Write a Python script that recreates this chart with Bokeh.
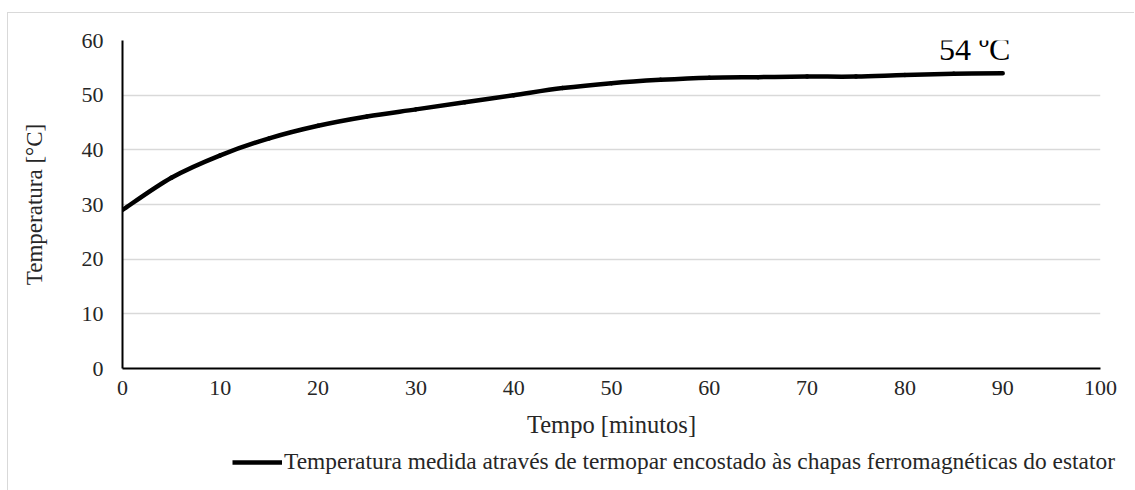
from bokeh.plotting import figure
from bokeh.models import Range1d, FixedTicker, Legend, LegendItem
from bokeh.core.properties import value
from bokeh.embed import file_html
from bokeh.resources import INLINE

# Stator temperature measured with a thermocouple, every 5 minutes
tempo_min = [0, 5, 10, 15, 20, 25, 30, 35, 40, 45, 50, 55, 60, 65, 70, 75, 80, 85, 90]
temperatura_c = [29.0, 34.9, 39.0, 42.1, 44.4, 46.1, 47.4, 48.7, 50.0, 51.3, 52.2, 52.8, 53.2,
                 53.3, 53.4, 53.4, 53.7, 53.9, 54.0]

x_ticks = [0, 10, 20, 30, 40, 50, 60, 70, 80, 90, 100]
y_ticks = [0, 10, 20, 30, 40, 50, 60]

serie_nome = "Temperatura medida através de termopar encostado às chapas ferromagnéticas do estator"
rotulo_final = "54 ºC"

FONT = "Liberation Serif"
GRID = "#d9d9d9"
TXT = "#262626"
W = 1127

p = figure(
    width=W, height=436,
    x_range=Range1d(0, 100), y_range=Range1d(0, 60),
    output_backend="svg", toolbar_location=None,
    min_border_left=114, min_border_right=35, min_border_top=27, min_border_bottom=81,
)
p.margin = (12, 0, 0, 7)
p.styles = {"border-top": f"1px solid {GRID}", "border-left": f"1px solid {GRID}"}
p.outline_line_color = None
p.background_fill_color = "white"
p.border_fill_color = "white"

# axes
p.xaxis.ticker = FixedTicker(ticks=x_ticks)
p.yaxis.ticker = FixedTicker(ticks=y_ticks)
for ax in (p.xaxis[0], p.yaxis[0]):
    ax.axis_line_color = "black"
    ax.axis_line_width = 2
    ax.major_tick_line_color = None
    ax.minor_tick_line_color = None
    ax.major_tick_out = 0
    ax.major_tick_in = 0
    ax.major_label_text_font = FONT
    ax.major_label_text_font_size = "22px"
    ax.major_label_text_color = TXT
    ax.axis_label_text_font = FONT
    ax.axis_label_text_font_style = "normal"
    ax.axis_label_text_color = TXT

p.xaxis.axis_label = "Tempo [minutos]"
p.yaxis.axis_label = "Temperatura [°C]"
p.xaxis.axis_label_text_font_size = "24.5px"
p.yaxis.axis_label_text_font_size = "23px"
p.xaxis.major_label_standoff = 12
p.yaxis.major_label_standoff = 19
p.xaxis.axis_label_standoff = 13
p.yaxis.axis_label_standoff = 32

p.xgrid.grid_line_color = None
p.ygrid.grid_line_color = GRID
p.ygrid.grid_line_width = 1.5

# smoothed curve: cubic segments through consecutive points (Catmull-Rom handles)
n = len(tempo_min)
x0, y0, x1, y1, cx0, cy0, cx1, cy1 = ([] for _ in range(8))
for i in range(n - 1):
    xp, yp = tempo_min[max(i - 1, 0)], temperatura_c[max(i - 1, 0)]
    xa, ya = tempo_min[i], temperatura_c[i]
    xb, yb = tempo_min[i + 1], temperatura_c[i + 1]
    xn, yn = tempo_min[min(i + 2, n - 1)], temperatura_c[min(i + 2, n - 1)]
    x0.append(xa); y0.append(ya); x1.append(xb); y1.append(yb)
    cx0.append(xa + (xb - xp) / 6); cy0.append(ya + (yb - yp) / 6)
    cx1.append(xb - (xn - xa) / 6); cy1.append(yb - (yn - ya) / 6)

p.bezier(x0=x0, y0=y0, x1=x1, y1=y1, cx0=cx0, cy0=cy0, cx1=cx1, cy1=cy1,
         line_color="black", line_width=4.5, line_cap="round")

# final value label at the last point
p.text(x=[tempo_min[-1]], y=[temperatura_c[-1]], text=[rotulo_final],
       text_font=value(FONT), text_font_size="32px", text_color="black",
       text_align="center", text_baseline="bottom", x_offset=-28, y_offset=-6)

# legend strip under the chart: same series, its view window kept off the data
leg = figure(
    width=W, height=42,
    x_range=Range1d(0, 100), y_range=Range1d(100, 101),
    x_axis_type=None, y_axis_type=None,
    output_backend="svg", toolbar_location=None,
    min_border=0, min_border_left=0, min_border_right=0, min_border_top=0, min_border_bottom=0,
)
leg.margin = (0, 0, 0, 7)
leg.styles = {"border-left": f"1px solid {GRID}"}
leg.outline_line_color = None
leg.xgrid.grid_line_color = None
leg.ygrid.grid_line_color = None
r_leg = leg.line(tempo_min, temperatura_c, line_color="black", line_width=4.5)

legend = Legend(
    items=[LegendItem(label=serie_nome, renderers=[r_leg])],
    location=(224, 15),
    orientation="horizontal",
    label_text_font=FONT, label_text_font_size="23.4px", label_text_color=TXT,
    glyph_width=50, glyph_height=24, label_standoff=2,
    padding=0, margin=0, spacing=0,
    border_line_color=None, background_fill_alpha=0,
)
leg.add_layout(legend, "center")

open("out.html", "w").write(file_html([p, leg], INLINE))
